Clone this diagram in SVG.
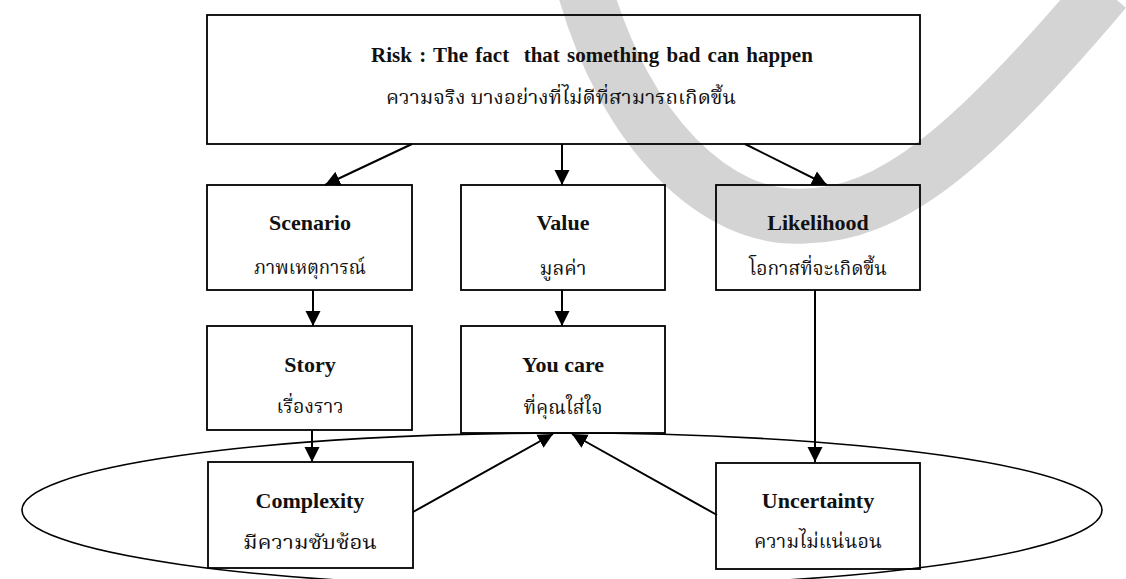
<svg xmlns="http://www.w3.org/2000/svg" width="1126" height="579" viewBox="0 0 1126 579">
<style>
.box{fill:none;stroke:#000;stroke-width:1.8}
.en{font-family:"Liberation Serif","Times New Roman",serif;font-weight:bold;font-size:22px;fill:#111;text-anchor:middle}
.th{font-family:"Liberation Serif","Noto Serif Thai","Noto Sans Thai","DejaVu Sans",serif;font-size:19px;fill:#111;text-anchor:middle}
.ln{fill:none;stroke:#000;stroke-width:2}
</style>
<defs>
<marker id="ah" markerUnits="userSpaceOnUse" markerWidth="16" markerHeight="16" refX="15" refY="7.5" orient="auto" viewBox="0 0 16 15">
<path d="M0,0 L15,7.5 L0,15 z" fill="#000"/>
</marker>
</defs>
<rect width="1126" height="579" fill="#fff"/>
<path id="watermark" d="M585,-10 C625,130 715,222 805,216 C890,215 970,150 1105,-10" fill="none" stroke="#d4d4d4" stroke-width="55"/>
<g id="connectors">
<line class="ln" x1="412" y1="144" x2="325" y2="185" marker-end="url(#ah)"/>
<line class="ln" x1="562" y1="144" x2="562" y2="185" marker-end="url(#ah)"/>
<line class="ln" x1="745" y1="144" x2="827" y2="185" marker-end="url(#ah)"/>
<line class="ln" x1="313" y1="290" x2="313" y2="326" marker-end="url(#ah)"/>
<line class="ln" x1="562" y1="290" x2="562" y2="326" marker-end="url(#ah)"/>
<line class="ln" x1="815" y1="290" x2="815" y2="462" marker-end="url(#ah)"/>
<line class="ln" x1="312" y1="430" x2="312" y2="462" marker-end="url(#ah)"/>
<line class="ln" x1="413" y1="512" x2="553" y2="434" marker-end="url(#ah)"/>
<line class="ln" x1="717" y1="515" x2="572" y2="434" marker-end="url(#ah)"/>
</g>
<ellipse id="group-ellipse" cx="562" cy="510" rx="540" ry="77" fill="none" stroke="#000" stroke-width="1.6"/>
<g id="risk">
<rect class="box" x="207" y="15" width="713" height="129"/>
<text class="en" x="592" y="62" xml:space="preserve" style="font-size:21px;word-spacing:2px">Risk : The fact  that something bad can happen</text>
<text class="th" x="561" y="104" textLength="350" lengthAdjust="spacingAndGlyphs">ความจริง บางอย่างที่ไม่ดีที่สามารถเกิดขึ้น</text>
</g>
<g id="scenario">
<rect class="box" x="207" y="185" width="205" height="105"/>
<text class="en" x="310" y="230">Scenario</text>
<text class="th" x="310" y="274" textLength="112" lengthAdjust="spacingAndGlyphs">ภาพเหตุการณ์</text>
</g>
<g id="value">
<rect class="box" x="461" y="185" width="204" height="105"/>
<text class="en" x="563" y="230">Value</text>
<text class="th" x="563" y="275" textLength="47" lengthAdjust="spacingAndGlyphs">มูลค่า</text>
</g>
<g id="likelihood">
<rect class="box" x="716" y="185" width="204" height="105"/>
<text class="en" x="818" y="230">Likelihood</text>
<text class="th" x="818" y="275" textLength="138" lengthAdjust="spacingAndGlyphs">โอกาสที่จะเกิดขึ้น</text>
</g>
<g id="story">
<rect class="box" x="207" y="326" width="205" height="104"/>
<text class="en" x="310" y="372">Story</text>
<text class="th" x="310" y="413" textLength="67" lengthAdjust="spacingAndGlyphs">เรื่องราว</text>
</g>
<g id="youcare">
<rect class="box" x="461" y="326" width="204" height="107"/>
<text class="en" x="563" y="372">You care</text>
<text class="th" x="563" y="414" textLength="79" lengthAdjust="spacingAndGlyphs">ที่คุณใส่ใจ</text>
</g>
<g id="complexity">
<rect class="box" x="208" y="462" width="205" height="106"/>
<text class="en" x="310" y="508">Complexity</text>
<text class="th" x="310" y="549" textLength="134" lengthAdjust="spacingAndGlyphs">มีความซับซ้อน</text>
</g>
<g id="uncertainty">
<rect class="box" x="716" y="463" width="204" height="106"/>
<text class="en" x="818" y="508">Uncertainty</text>
<text class="th" x="818" y="548" textLength="128" lengthAdjust="spacingAndGlyphs">ความไม่แน่นอน</text>
</g>
</svg>
